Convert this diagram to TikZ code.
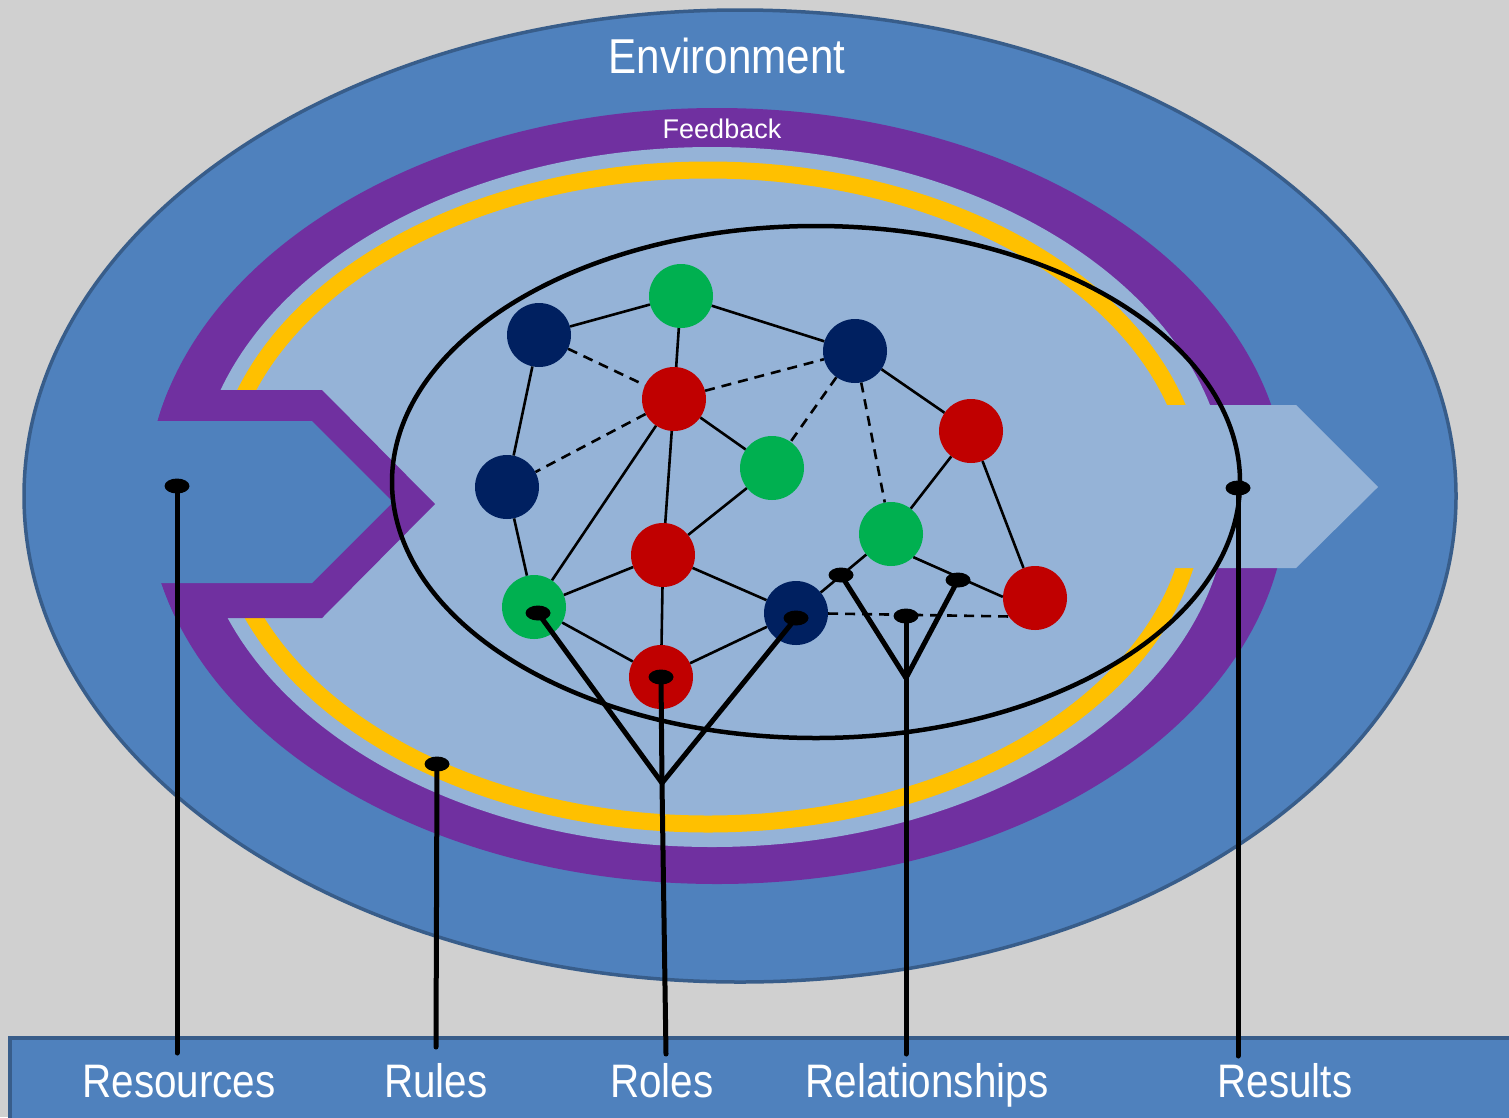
\documentclass[tikz,border=0pt]{standalone}
\usepackage{fontspec}
\setmainfont{Liberation Sans}
\newfontfamily\labfont[FakeStretch=0.86]{Liberation Sans}
\usetikzlibrary{shapes.geometric}
\definecolor{bg}{HTML}{D0D0D0}
\definecolor{envblue}{HTML}{4F81BD}
\definecolor{envborder}{HTML}{385D8A}
\definecolor{fbpurple}{HTML}{7030A0}
\definecolor{lightblue}{HTML}{95B3D7}
\definecolor{ruleyellow}{HTML}{FFC000}
\definecolor{navy}{HTML}{002060}
\definecolor{agreen}{HTML}{00B050}
\definecolor{ared}{HTML}{C00000}
\begin{document}
\begin{tikzpicture}[x=1pt,y=-1pt,
  agent/.style={circle,minimum size=64pt,inner sep=0pt,draw=none},
  nv/.style={agent,fill=navy},
  gr/.style={agent,fill=agreen},
  rd/.style={agent,fill=ared},
  link/.style={line width=2.6pt},
  weak/.style={line width=2.6pt,dash pattern=on 10pt off 7pt},
  pin/.style={ellipse,fill=black,minimum width=25pt,minimum height=15pt,inner sep=0pt},
  pointer/.style={line width=5pt,line cap=round,line join=round},
  lbl/.style={text=white,inner sep=0pt,font={\labfont\fontsize{47pt}{52pt}\selectfont}}]
\useasboundingbox (0,0) rectangle (1509,1117);
\fill[bg] (0,0) rectangle (1509,1117);
% environment
\filldraw[fill=envblue,draw=envborder,line width=3.5pt] (740,496) ellipse [x radius=716pt,y radius=486pt];
% feedback band
\fill[fbpurple] (717,496) ellipse [x radius=570pt,y radius=388pt];
\fill[lightblue] (712,497) ellipse [x radius=516pt,y radius=350pt];
% rules ring
\draw[ruleyellow,line width=17pt] (708,497) ellipse [x radius=488pt,y radius=327pt];
% input notch
\begin{scope}
  \clip (717,496) ellipse [x radius=570pt,y radius=388pt];
  \fill[fbpurple] (100,390) -- (322,390) -- (435,504) -- (322,618) -- (100,618) -- cycle;
\end{scope}
\fill[envblue] (100,421) -- (312,421) -- (393,502) -- (312,583) -- (100,583) -- cycle;
% output arrow
\fill[lightblue] (1100,405) -- (1296,405) -- (1378,487) -- (1296,568) -- (1100,568) -- cycle;
% system boundary
\draw[line width=4.5pt] (816,482) ellipse [x radius=424pt,y radius=256pt];
% agents
\node[nv] (A) at (539,335) {};
\node[gr] (B) at (681,296) {};
\node[rd] (C) at (674,399) {};
\node[nv] (D) at (855,351) {};
\node[gr] (E) at (772,468) {};
\node[nv] (F) at (507,487) {};
\node[gr] (G) at (534,607) {};
\node[rd] (H) at (663,555) {};
\node[rd] (I) at (661,677) {};
\node[nv] (J) at (796,613) {};
\node[rd] (K) at (971,431) {};
\node[gr] (L) at (891,534) {};
\node[rd] (M) at (1035,598) {};
% solid links
\draw[link] (A) -- (B);
\draw[link] (B) -- (C);
\draw[link] (B) -- (D);
\draw[link] (A) -- (F);
\draw[link] (C) -- (E);
\draw[link] (C) -- (G);
\draw[link] (C) -- (H);
\draw[link] (H) -- (E);
\draw[link] (F) -- (G);
\draw[link] (G) -- (H);
\draw[link] (G) -- (I);
\draw[link] (H) -- (I);
\draw[link] (H) -- (J);
\draw[link] (I) -- (J);
\draw[link] (D) -- (K);
\draw[link] (K) -- (L);
\draw[link] (K) -- (M);
\draw[link] (L.-46) -- (M.178);
\draw[link] (J) -- (L);
% dashed links
\draw[weak] (A) -- (C);
\draw[weak] (C) -- (D);
\draw[weak] (C) -- (F);
\draw[weak] (D) -- (E);
\draw[weak] (D) -- (L);
\draw[weak] (J) -- (M.215);
% bottom bar
\filldraw[fill=envblue,draw=envborder,line width=3.5pt] (10,1038) rectangle (1530,1140);
% pins
\node[pin] (pres) at (177,486) {};
\node[pin] (prul) at (437,764) {};
\node[pin] (pg) at (538,613) {};
\node[pin] (pi) at (661,677) {};
\node[pin] (pj) at (796,618) {};
\node[pin] (pr1) at (841,575) {};
\node[pin] (pr2) at (906,616) {};
\node[pin] (pr3) at (958,580) {};
\node[pin] (pout) at (1238,488) {};
\coordinate (jroles) at (662,783);
\coordinate (jrel) at (906,678);
\coordinate (eres) at (177,1053);
\coordinate (erul) at (436,1047);
\coordinate (erol) at (666,1054);
\coordinate (erel) at (906,1054);
\coordinate (eout) at (1238,1056);
% pointers
\draw[pointer] (pres.center) -- (eres);
\draw[pointer] (prul.center) -- (erul);
\draw[pointer] (pg.center) -- (jroles);
\draw[pointer] (pj.center) -- (jroles);
\draw[pointer] (pi.center) -- (jroles) -- (erol);
\draw[pointer] (pr1.center) -- (jrel);
\draw[pointer] (pr3.center) -- (jrel);
\draw[pointer] (pr2.center) -- (jrel) -- (erel);
\draw[pointer] (pout.center) -- (eout);
% labels
\node[text=white,inner sep=0pt,anchor=base,font={\labfont\fontsize{49pt}{55pt}\selectfont}] (env) at (727,73) {Environment};
\node[text=white,inner sep=0pt,anchor=base,font={\fontsize{27pt}{31pt}\selectfont}] (fb) at (722,138) {Feedback};
\node[lbl,anchor=base] (lres) at (179,1097) {Resources};
\node[lbl,anchor=base] (lrul) at (436,1097) {Rules};
\node[lbl,anchor=base] (lrol) at (662,1097) {Roles};
\node[lbl,anchor=base] (lrel) at (927,1097) {Relationships};
\node[lbl,anchor=base] (lout) at (1285,1097) {Results};
\end{tikzpicture}
\end{document}
